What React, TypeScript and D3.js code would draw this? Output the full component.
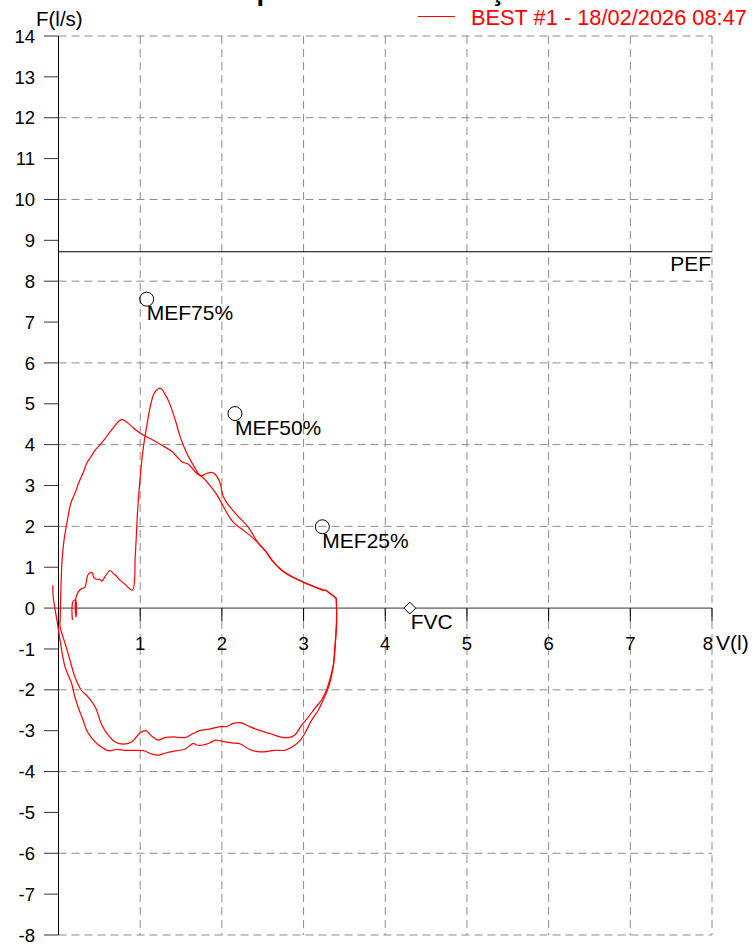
import React from "react";
import * as d3 from "d3";

// ---------- data ----------
const xTicks = [1, 2, 3, 4, 5, 6, 7, 8];
const yTicks = [14, 13, 12, 11, 10, 9, 8, 7, 6, 5, 4, 3, 2, 1, 0, -1, -2, -3, -4, -5, -6, -7, -8];
const yGrid = [14, 12, 10, 8, 6, 4, 2, -2, -4, -6, -8];

// tidal breathing + first forced expiration (peak ~5.4 l/s)
const expirationA: [number, number][] = [
  [0.17, -0.29], [0.165, 0.0], [0.18, 0.17], [0.21, 0.2], [0.22, -0.05], [0.215, -0.22], [0.205, 0.05],
  [0.22, 0.3], [0.28, 0.48], [0.32, 0.5], [0.365, 0.83], [0.41, 0.87], [0.43, 0.76], [0.47, 0.7],
  [0.5, 0.71], [0.53, 0.66], [0.57, 0.77], [0.63, 0.92], [0.67, 0.85], [0.71, 0.78], [0.75, 0.69],
  [0.81, 0.59], [0.905, 0.44],
  [0.94, 1.3], [0.97, 2.44], [1.0, 3.2], [1.04, 3.95], [1.08, 4.45], [1.12, 4.9], [1.17, 5.25],
  [1.22, 5.37], [1.25, 5.38], [1.3, 5.25], [1.36, 5.01], [1.43, 4.6], [1.49, 4.19], [1.57, 3.79],
  [1.65, 3.5], [1.72, 3.27], [1.78, 3.17], [1.85, 3.01], [1.94, 2.77], [2.02, 2.48], [2.1, 2.2],
  [2.16, 2.06], [2.26, 1.91], [2.36, 1.75], [2.45, 1.58],
  [2.53, 1.4], [2.62, 1.15], [2.71, 0.97], [2.8, 0.84], [2.9, 0.73], [3.0, 0.64], [3.1, 0.55],
  [3.18, 0.48], [3.25, 0.43], [3.27, 0.44], [3.32, 0.36], [3.4, 0.24],
];

// first forced inspiration (inner trace)
const inspirationA: [number, number][] = [
  [3.4, 0.24], [3.405, -0.13], [3.395, -0.62], [3.38, -1.03], [3.36, -1.44], [3.32, -1.76],
  [3.28, -2.01], [3.22, -2.25], [3.14, -2.45], [3.06, -2.66], [2.98, -2.86], [2.89, -3.11],
  [2.81, -3.17], [2.71, -3.15], [2.59, -3.07], [2.47, -3.0], [2.34, -2.9], [2.24, -2.81],
  [2.14, -2.82], [2.06, -2.9], [1.98, -2.9], [1.85, -2.96], [1.73, -3.0], [1.65, -3.07],
  [1.55, -3.17], [1.41, -3.15], [1.3, -3.17], [1.22, -3.23], [1.14, -3.13], [1.07, -3.0],
  [1.0, -3.05], [0.9, -3.27], [0.79, -3.33], [0.69, -3.27], [0.61, -3.11], [0.53, -2.86],
  [0.45, -2.42], [0.36, -2.17], [0.28, -2.01], [0.2, -1.68], [0.14, -1.27], [0.08, -0.86],
  [0.02, -0.46], [0.02, -0.29],
];

// second forced expiration (peak ~4.6 l/s)
const expirationB: [number, number][] = [
  [0.02, -0.29], [0.03, 0.52], [0.045, 1.2], [0.07, 1.7], [0.1, 2.05], [0.15, 2.56], [0.21, 2.85],
  [0.25, 3.08], [0.3, 3.3], [0.345, 3.54], [0.39, 3.68], [0.45, 3.87], [0.51, 4.0], [0.57, 4.15],
  [0.63, 4.31], [0.69, 4.46], [0.74, 4.58], [0.78, 4.62], [0.83, 4.56], [0.9, 4.44], [0.98, 4.31],
  [1.06, 4.21], [1.14, 4.13], [1.26, 3.99], [1.39, 3.83], [1.51, 3.58], [1.59, 3.52], [1.69, 3.3],
  [1.75, 3.24], [1.82, 3.3], [1.875, 3.32], [1.92, 3.27], [1.98, 3.05], [2.01, 2.77], [2.06, 2.58],
  [2.14, 2.38], [2.22, 2.2], [2.32, 1.99], [2.45, 1.58],
  [2.53, 1.41], [2.62, 1.16], [2.71, 0.96], [2.8, 0.83], [2.9, 0.72], [3.0, 0.63], [3.1, 0.55],
  [3.18, 0.49], [3.25, 0.44], [3.27, 0.43], [3.32, 0.37], [3.4, 0.24],
];

// second forced inspiration (outer trace)
const inspirationB: [number, number][] = [
  [3.4, 0.24], [3.405, -0.37], [3.39, -0.86], [3.37, -1.35], [3.34, -1.68], [3.3, -1.97],
  [3.24, -2.25], [3.18, -2.5], [3.1, -2.74], [3.02, -3.05], [2.96, -3.23], [2.87, -3.39],
  [2.77, -3.48], [2.65, -3.48], [2.47, -3.52], [2.34, -3.46], [2.22, -3.32], [2.12, -3.3],
  [1.98, -3.25], [1.92, -3.23], [1.85, -3.3], [1.77, -3.35], [1.69, -3.35], [1.65, -3.31],
  [1.55, -3.45], [1.45, -3.49], [1.32, -3.54], [1.22, -3.6], [1.14, -3.57], [1.04, -3.49],
  [0.94, -3.48], [0.81, -3.48], [0.71, -3.46], [0.61, -3.49], [0.49, -3.35], [0.41, -3.19],
  [0.345, -2.99], [0.3, -2.74], [0.24, -2.42], [0.2, -2.17], [0.16, -1.84], [0.08, -1.44],
  [0.0, -0.54], [-0.02, -0.29], [-0.04, -0.05], [-0.065, 0.27], [-0.07, 0.56],
];

const traces = [expirationA, inspirationA, expirationB, inspirationB];

const pefValue = 8.72;
const mefPoints: { label: string; v: number; f: number }[] = [
  { label: "MEF75%", v: 1.08, f: 7.56 },
  { label: "MEF50%", v: 2.16, f: 4.76 },
  { label: "MEF25%", v: 3.23, f: 1.99 },
];
const fvcPoint = { label: "FVC", v: 4.3, f: 0 };

const titleText = "Espirometria - Avaliação";
const legendText = "BEST #1 - 18/02/2026  08:47";

// ---------- chart ----------
const W = 752;
const H = 944;
const FONT = "'Liberation Sans', Arial, Helvetica, sans-serif";

export default function App() {
  const x = d3.scaleLinear().domain([0, 8]).range([58.5, 712]);
  const y = d3.scaleLinear().domain([-8, 14]).range([935, 36]);
  const line = d3
    .line<[number, number]>()
    .x((d) => x(d[0]))
    .y((d) => y(d[1]))
    .curve(d3.curveCatmullRom.alpha(0.5));

  const x0 = x(0);
  const x8 = x(8);
  const yTop = y(14);
  const yBot = y(-8);
  const yZero = y(0);
  const gridColor = "#8c8c8c";

  return (
    <svg
      width={W}
      height={H}
      style={{ position: "absolute", left: 0, top: 0, background: "#fff" }}
      fontFamily={FONT}
    >
      {/* title (cut off at top, as in the source) */}
      <text x={380} y={0} textAnchor="middle" fontSize={27} fontWeight="bold" fill="#000">
        {titleText}
      </text>

      {/* grid */}
      {xTicks.map((t) => (
        <line
          key={"gx" + t}
          x1={x(t)}
          x2={x(t)}
          y1={yTop}
          y2={yBot}
          stroke={gridColor}
          strokeWidth={1}
          strokeDasharray="8,5"
        />
      ))}
      {yGrid.map((t) => (
        <line
          key={"gy" + t}
          x1={x0}
          x2={x8}
          y1={y(t)}
          y2={y(t)}
          stroke={gridColor}
          strokeWidth={1}
          strokeDasharray="8,5"
        />
      ))}

      {/* zero line */}
      <line x1={x0} x2={x8} y1={yZero} y2={yZero} stroke="#333" strokeWidth={1} />
      {/* y axis */}
      <line x1={x0} x2={x0} y1={yTop} y2={yBot} stroke="#000" strokeWidth={1} />

      {/* y ticks */}
      {yTicks.map((t) => (
        <g key={"yt" + t}>
          <line x1={44} x2={x0} y1={y(t)} y2={y(t)} stroke="#333" strokeWidth={1} />
          <text x={35} y={y(t)} dy="0.36em" textAnchor="end" fontSize={18.5} fill="#000">
            {t}
          </text>
        </g>
      ))}

      {/* x ticks */}
      {xTicks.map((t, i) => (
        <g key={"xt" + t}>
          <line x1={x(t)} x2={x(t)} y1={yZero} y2={yZero + 13} stroke="#000" strokeWidth={1} />
          <text
            x={i === xTicks.length - 1 ? x(t) + 1 : x(t)}
            y={650}
            textAnchor={i === xTicks.length - 1 ? "end" : "middle"}
            fontSize={18.5}
            fill="#000"
          >
            {t}
          </text>
        </g>
      ))}

      {/* axis labels */}
      <text x={36} y={26} fontSize={20.5} fill="#000">
        F(l/s)
      </text>
      <text x={716} y={650} fontSize={21} fill="#000">
        V(l)
      </text>

      {/* PEF */}
      <line x1={x0} x2={x8} y1={y(pefValue)} y2={y(pefValue)} stroke="#000" strokeWidth={1} />
      <text x={711} y={y(pefValue) + 19} textAnchor="end" fontSize={21} fill="#000">
        PEF
      </text>

      {/* flow-volume traces */}
      {traces.map((tr, i) => (
        <path key={"tr" + i} d={line(tr) || ""} fill="none" stroke="#ff0000" strokeWidth={1.2} />
      ))}

      {/* MEF markers */}
      {mefPoints.map((p) => (
        <g key={p.label}>
          <circle cx={x(p.v)} cy={y(p.f)} r={7} fill="none" stroke="#000" strokeWidth={1} />
          <text x={x(p.v)} y={y(p.f) + 21} fontSize={21} fill="#000">
            {p.label}
          </text>
        </g>
      ))}

      {/* FVC marker */}
      <path
        d={d3.symbol().type(d3.symbolDiamond2).size(90)() || ""}
        transform={`translate(${x(fvcPoint.v)},${y(fvcPoint.f)})`}
        fill="#fff"
        stroke="#000"
        strokeWidth={1}
      />
      <text x={x(fvcPoint.v) + 1} y={y(fvcPoint.f) + 21} fontSize={21} fill="#000">
        {fvcPoint.label}
      </text>

      {/* legend */}
      <line x1={418} x2={455} y1={16.5} y2={16.5} stroke="#ff0000" strokeWidth={1} />
      <text x={471} y={25} fontSize={21.8} fill="#ff0000">
        {legendText}
      </text>
    </svg>
  );
}
